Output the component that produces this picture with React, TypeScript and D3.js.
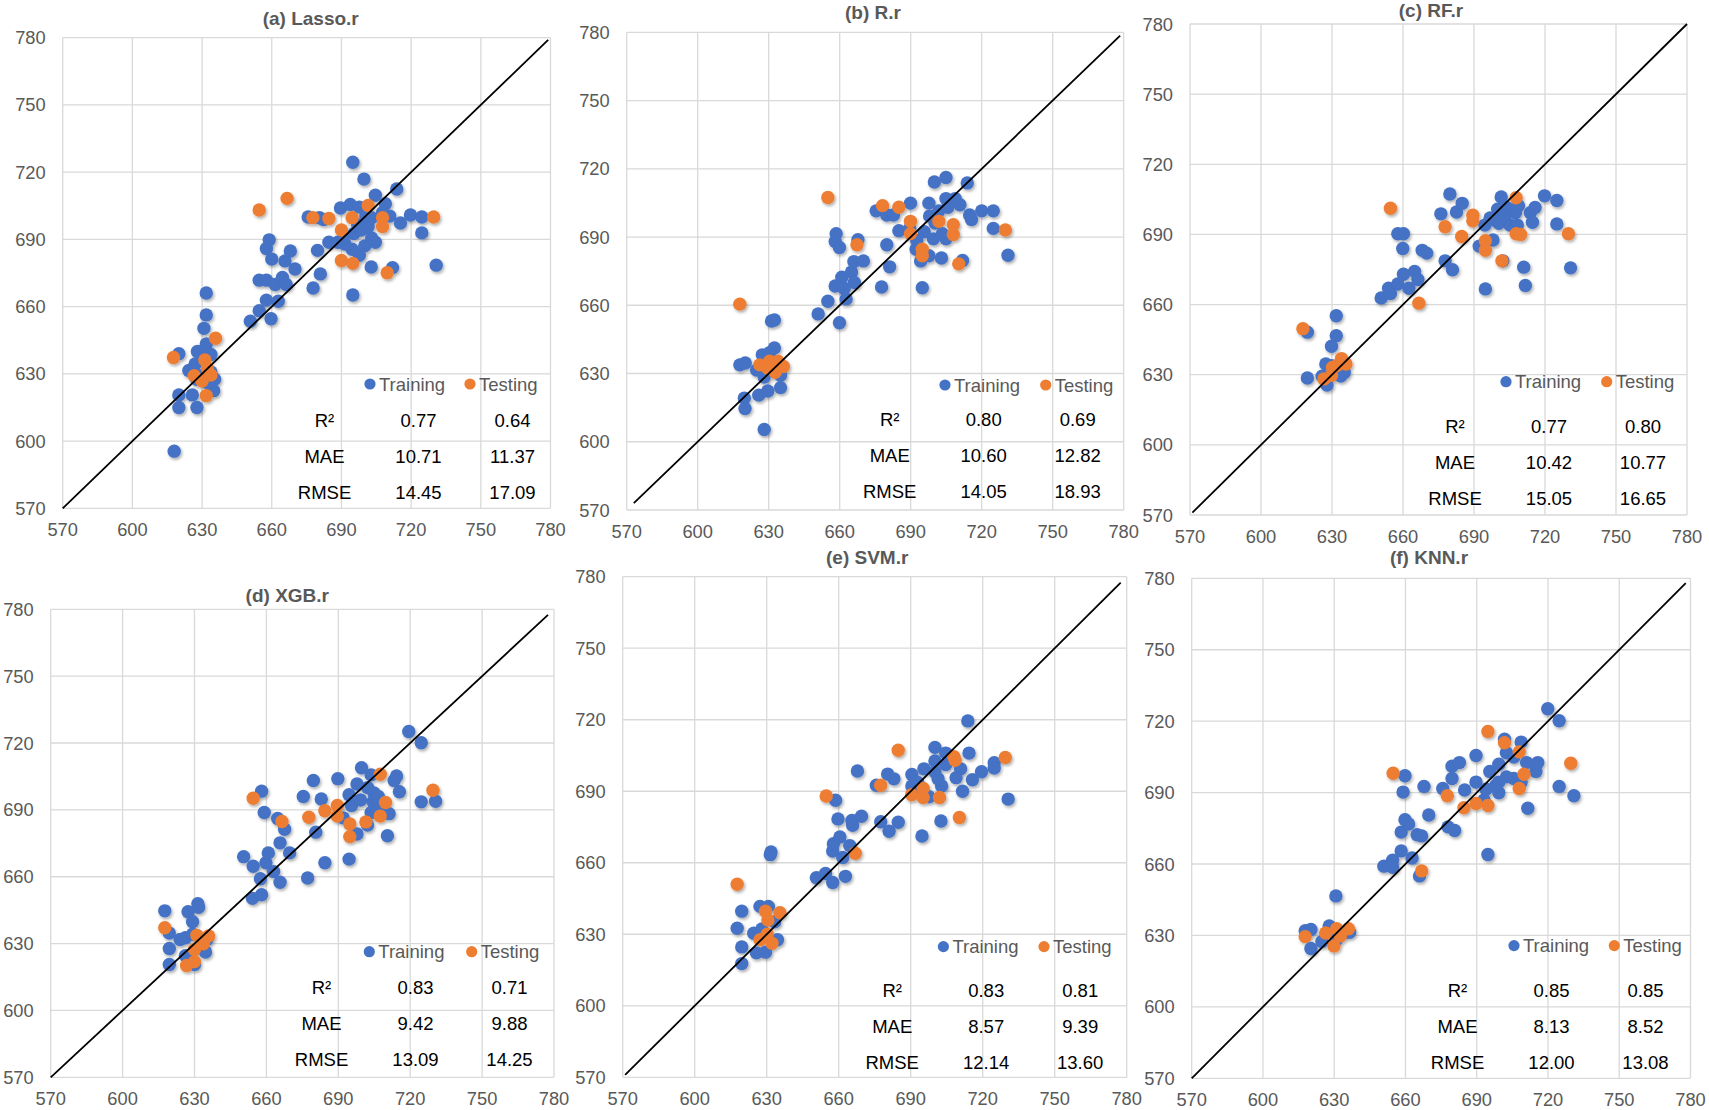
import React from 'react';
import * as d3 from 'd3';

// ---------- DATA ----------
const TICKS = [570, 600, 630, 660, 690, 720, 750, 780];
const DOMAIN: [number, number] = [570, 780];
const STAT_LABELS = ['R²', 'MAE', 'RMSE'];
const SERIES_NAMES = ['Training', 'Testing'];
// 1:1 reference line extent per panel
const DIAG: [number, number][] = [[570, 779], [573, 778.5], [571, 780], [570, 777.5], [571, 777.5], [570, 778]];

const lassoTrain: [number, number][] = [
  [618, 595.5], [620, 615], [627.8, 615], [620, 620.6], [625.8, 620.6], [635, 622.5], [620, 639], [624.3, 631.5],
  [627, 634.4], [628, 640], [630.8, 640.5], [631.8, 643.3], [630.8, 650.3], [631.8, 656.3], [631.8, 666.1], [633.8, 638.6],
  [633.8, 630.8], [629.2, 629.2], [635.4, 627.6], [632.3, 626], [627.7, 627.6], [650.8, 653.5], [654.6, 658.2], [659.7, 654.6],
  [657.7, 662.9], [662.8, 662.4], [654.6, 671.8], [657.7, 671.8], [661.5, 669.9], [664.6, 673], [666.2, 669.9], [657.7, 685.9],
  [658.9, 689.8], [660, 681.2], [665.7, 680.4], [668, 684.8], [670, 676.8], [677.8, 668.3], [680.9, 674.6], [679.7, 685.1],
  [684.6, 688.7], [675.7, 700], [680.5, 699.7], [682.3, 698.9], [689.6, 704], [693.8, 705.6], [697.7, 704.4], [694.9, 724.4],
  [699.7, 716.9], [704.6, 709.7], [708.9, 705.9], [713.8, 712.5], [710.8, 700.4], [715.4, 697.3], [719.7, 700.9], [724.6, 700],
  [724.6, 692.9], [730.8, 678.5], [712, 677.4], [702.8, 677.7], [694.9, 665.2], [697.7, 682.9], [694.6, 685.6], [691.5, 687.9],
  [700, 687.1], [704.6, 688.7], [703, 690.6], [695.4, 692.6], [698.5, 694.2], [701.5, 695.7], [703, 699.7], [707.7, 702],
  [688.5, 688.7], [690.8, 690.3], [697, 696.5], [700.5, 700.4],
];
const lassoTest: [number, number][] = [
  [617.7, 637.3], [635.8, 645.9], [631.2, 636.2], [626.6, 629.2], [633.8, 629.5], [630, 626.8], [631.8, 620.3], [632.3, 632.3],
  [654.6, 703.1], [666.6, 708.3], [677.7, 699.7], [684.6, 699.3], [690, 694.2], [694.6, 699.7], [701.5, 705.1], [707.7, 699.7],
  [707.7, 695.7], [729.7, 700], [690, 680.6], [694.9, 679.3], [709.7, 675.1],
];

const ridgeTrain: [number, number][] = [
  [617.8, 633.8], [620.1, 634.6], [619.7, 619.2], [620, 614.6], [625.8, 620.5], [628.1, 605.4], [624.9, 631.5], [627.3, 638.2],
  [630.4, 639.2], [632.4, 641.2], [631.2, 653.1], [632.4, 653.5], [635, 623.8], [629.6, 622.3], [635, 629.2], [633.5, 633.1],
  [628.1, 628.5], [650.9, 656.2], [655, 661.8], [659.9, 652.3], [662.7, 662.8], [658.1, 668.5], [661.9, 667.4], [660.9, 672.3],
  [665, 674.6], [666.2, 670], [658.5, 691.5], [658.1, 688], [659.9, 685.4], [666, 679.2], [670, 679.5], [667.7, 688.8],
  [677.7, 668], [681.1, 676.9], [679.9, 686.6], [675.4, 701.5], [679.9, 699.7], [682.7, 699.7], [685, 692.8], [689.9, 704.9],
  [697.7, 704.9], [700, 714.2], [704.9, 716.2], [713.9, 713.8], [704.9, 706.9], [708.8, 706.9], [710.8, 704.2], [705.7, 703.1],
  [714.9, 699.7], [715.7, 697.7], [720, 701.5], [724.9, 701.5], [724.9, 693.8], [731.1, 682], [711.9, 679.7], [703, 680.8],
  [697.7, 681.8], [694.2, 679.5], [694.9, 667.7], [692.3, 684.6], [692.6, 688.5], [695.7, 692.3], [699.6, 689.2], [703.4, 691.5],
  [704.9, 689.2], [700.3, 696.2], [698, 699.2], [701.9, 701.5], [689.6, 693.8],
];
const ridgeTest: [number, number][] = [
  [617.8, 660.5], [626.2, 633.8], [630.4, 635.4], [632.7, 630.5], [636.2, 633.1], [629.6, 632.3], [633.9, 635.4], [655, 707.4],
  [667.3, 686.6], [678.1, 703.8], [685, 703.1], [689.9, 696.9], [689.9, 691.5], [694.9, 684.6], [694.9, 681.8], [701.9, 696.9],
  [708, 695.4], [708, 691.1], [710.3, 678.2], [730, 693.1],
];

const rfTrain: [number, number][] = [
  [619.6, 648.2], [619.6, 628.6], [631.8, 655.2], [631.8, 646.7], [629.8, 642.2], [627.4, 634.6], [627.9, 625.6], [625.8, 629.4],
  [633.7, 629.4], [635.2, 630.9], [631.3, 630.9], [629.8, 633.9], [650.8, 662.8], [654.7, 664.7], [653.9, 667], [657.8, 668.8],
  [660.2, 673], [664.9, 674.2], [666.3, 670.7], [662.5, 667], [657.8, 690.3], [660.2, 690.3], [659.9, 684], [668.1, 683.2],
  [670, 682], [677.8, 678.7], [680.9, 674.9], [676, 698.8], [679.8, 707.3], [682.6, 699.6], [685, 703.3], [694.8, 666.7],
  [692.2, 685], [698, 687.6], [694.6, 694], [696.8, 697], [700, 700.8], [701.5, 706], [703.8, 701.5], [700.5, 694.8],
  [705.2, 694], [708.3, 694], [707.5, 699.3], [708.8, 702.3], [713.8, 699.3], [714.7, 695.2], [715.8, 701.5], [719.8, 706.5],
  [725, 704.5], [725, 694.5], [730.8, 675.7], [711, 676], [711.7, 668.2], [702.2, 678.7], [698.4, 696.2], [703.1, 697.8],
];
const rfTest: [number, number][] = [
  [617.7, 649.7], [626.6, 628.2], [630.2, 633.1], [634, 636.9], [632.1, 633.9], [635.9, 634.6], [629.8, 629.7], [654.7, 701.2],
  [666.7, 660.6], [677.8, 693.3], [684.8, 689.1], [689.5, 698.2], [689.5, 695.8], [694.8, 687.3], [694.8, 683.2], [701.8, 678.7],
  [707.8, 690.3], [709.7, 690], [707.8, 705.7], [729.9, 690.3],
];

const xgbTrain: [number, number][] = [
  [617.6, 644.7], [619.5, 634.7], [619.5, 627.8], [619.5, 620.6], [627.3, 644.3], [631.4, 647.9], [631.7, 646.3], [629.2, 639.8],
  [624, 631.8], [626.2, 632.6], [629.2, 634.2], [634.6, 626.2], [630, 620.6], [626.2, 624.6], [635.2, 631.8], [650.5, 669],
  [654.5, 664.7], [654.2, 650.3], [658, 651.9], [657.5, 659.1], [659.8, 666.3], [660.8, 670.7], [663, 662.3], [665.7, 657.5],
  [665.7, 675.2], [667.6, 681.3], [669.7, 670.7], [664.7, 686.1], [659.1, 688.8], [658, 698.4], [677.2, 659.4], [684.4, 666.3],
  [680.6, 680], [675.4, 696], [679.6, 703.2], [682.9, 694.9], [689.8, 704], [694.5, 667.9], [692.1, 686.4], [695.5, 692],
  [694.5, 696.8], [697.8, 701.6], [699.7, 708.9], [703.7, 705.7], [702.2, 700], [704.9, 697.6], [704.5, 693.6], [703.7, 688.8],
  [697.8, 679.2], [702.2, 683.2], [711.2, 688.3], [710.5, 678.4], [713.3, 703.2], [714.3, 705.2], [715.5, 698.1], [719.4, 725.2],
  [724.6, 720.1], [724.6, 693.6], [730.6, 693.9], [699.3, 694.4], [706.7, 696], [708.2, 691.2],
];
const xgbTest: [number, number][] = [
  [617.6, 637.1], [626.7, 620.2], [630, 621.9], [630, 627.3], [631, 633.7], [633.7, 629.9], [635.9, 633.4], [654.5, 695.2],
  [666.5, 684.8], [677.7, 686.7], [684.4, 689.6], [689.6, 692], [689.6, 687.2], [694.8, 683.7], [694.8, 678], [701.5, 684.6],
  [707.5, 706], [709.7, 693.3], [707.5, 687.2], [729.5, 698.8],
];

const svmTrain: [number, number][] = [
  [617.7, 632.5], [619.6, 639.7], [619.6, 624.7], [619.6, 617.7], [625.7, 622.2], [629.5, 622.5], [627.2, 641.7], [630.7, 641.7],
  [624.6, 630.4], [628, 632.2], [634.5, 627.7], [631.8, 664.5], [631.5, 663.4], [633.3, 635.2], [650.7, 653.7], [654.5, 655.5],
  [657.5, 651.7], [662.8, 654.3], [661.7, 662.2], [657.5, 664.9], [657.8, 668], [660.5, 670.8], [664.6, 667.2], [658.7, 686.2],
  [659.7, 678.4], [665.5, 677.7], [665.8, 675.7], [669.5, 679.5], [667.8, 698.5], [675.7, 692.5], [677.5, 677.2], [681, 673.2],
  [684.8, 677], [680.4, 697.2], [683, 695.2], [690.5, 697], [690.5, 692.2], [694.7, 671.2], [702.6, 677.5], [695.5, 699.4],
  [700.1, 708.4], [704.6, 706], [700.1, 702.7], [704.6, 701.2], [710.8, 699.4], [714.3, 706], [713.8, 719.5], [708.9, 695.7],
  [715.7, 694.8], [711.6, 690], [719.5, 698.2], [724.8, 702], [724.8, 699.7], [730.6, 686.7], [697.6, 687.7], [702.9, 692.2],
  [701.4, 695.2], [694.3, 689.2], [692.9, 693.7], [700.1, 698.2],
];
const svmTest: [number, number][] = [
  [617.7, 651], [629.5, 639.7], [635.5, 639], [630.5, 636], [627.2, 627.7], [630.2, 630], [632.2, 626.2], [654.8, 688],
  [666.9, 664], [677.5, 692.5], [684.8, 707.2], [690.4, 688.5], [695.2, 691.2], [695.2, 687.4], [702, 687.4], [708, 704.5],
  [708.5, 703], [710.3, 679], [729.4, 704.2],
];

const knnTrain: [number, number][] = [
  [617.8, 632], [620.2, 632.5], [620.2, 624.5], [624.8, 627.5], [627.9, 634], [630.7, 646.6], [634.1, 631], [631, 628.3],
  [636.5, 631.3], [650.9, 659.1], [654.6, 661.6], [654.6, 658.6], [658.2, 665.5], [662.8, 662.5], [665.9, 655], [658.2, 673.4],
  [659.8, 678.6], [661.3, 676.8], [664.9, 672.3], [666.8, 671.8], [669.8, 680.6], [659, 690.2], [659.8, 697.1], [667.8, 692.6],
  [675.7, 691.7], [677.9, 675.6], [680.7, 674.1], [679.6, 701.1], [682.7, 702.6], [679.6, 695.9], [684.9, 691.1], [689.7, 705.6],
  [689.7, 694.4], [693.9, 691.4], [694.7, 664], [695.5, 698.9], [699.3, 701.9], [701.7, 712.4], [702.5, 706.7], [705.6, 704.9],
  [708.7, 711.2], [711, 702.6], [714.9, 698.9], [715.7, 702.6], [711.5, 683.4], [719.9, 725.2], [724.7, 720.2], [724.7, 692.6],
  [730.9, 688.7], [699.3, 689.9], [705.6, 695.9], [702.5, 696.6], [697.9, 692.9], [693.1, 686.9], [699.3, 694.4], [708.7, 694.4],
];
const knnTest: [number, number][] = [
  [617.8, 629.5], [626.4, 631], [629.9, 625.6], [632.6, 629.8], [631, 632.8], [636, 632.8], [654.8, 698.1], [666.8, 657.1],
  [677.6, 688.7], [684.6, 683.6], [689.7, 685.4], [694.7, 684.6], [694.7, 715.7], [701.7, 710.9], [707.9, 707.1], [707.9, 691.7],
  [709.9, 697.7], [729.6, 702.3],
];

const TITLES = ['(a) Lasso.r', '(b) R.r', '(c) RF.r', '(d) XGB.r', '(e) SVM.r', '(f) KNN.r'];
const TRAIN_DATA = [lassoTrain, ridgeTrain, rfTrain, xgbTrain, svmTrain, knnTrain];
const TEST_DATA = [lassoTest, ridgeTest, rfTest, xgbTest, svmTest, knnTest];
const TRAIN_STATS = [
  ['0.77', '10.71', '14.45'],
  ['0.80', '10.60', '14.05'],
  ['0.77', '10.42', '15.05'],
  ['0.83', '9.42', '13.09'],
  ['0.83', '8.57', '12.14'],
  ['0.85', '8.13', '12.00'],
];
const TEST_STATS = [
  ['0.64', '11.37', '17.09'],
  ['0.69', '12.82', '18.93'],
  ['0.80', '10.77', '16.65'],
  ['0.71', '9.88', '14.25'],
  ['0.81', '9.39', '13.60'],
  ['0.85', '8.52', '13.08'],
];

// ---------- LAYOUT (pixel positions) ----------
const BOXES = [
  { left: 62.7, right: 550.5, top: 37.7, bottom: 508.3, tx: 310.7, ty: 18.3, ly: -124.3, lx: [-180.5, -80.5], tc: -38, tr: -15.6 },
  { left: 626.7, right: 1123.7, top: 32.3, bottom: 510, tx: 873, ty: 12, ly: -125, lx: [-178.7, -78], tc: -46, tr: -18.3 },
  { left: 1190, right: 1687, top: 24, bottom: 515, tx: 1431, ty: 10.8, ly: -133.3, lx: [-181, -80.3], tc: -44, tr: -16.7 },
  { left: 50.7, right: 554, top: 609.3, bottom: 1077.3, tx: 287.3, ty: 595, ly: -125.6, lx: [-184.7, -82.3], tc: -44.5, tr: -18.3 },
  { left: 622.7, right: 1126.7, top: 576.7, bottom: 1077.3, tx: 867.2, ty: 557.9, ly: -130.7, lx: [-183.3, -82.7], tc: -46.5, tr: -15 },
  { left: 1191.7, right: 1690.5, top: 578.3, bottom: 1078.3, tx: 1429, ty: 557.9, ly: -132.7, lx: [-176.5, -76.2], tc: -45, tr: -16 },
];

const BLUE = '#4472C4';
const ORANGE = '#ED7D31';
const GRID = '#d9d9d9';
const GRAY_TEXT = '#595959';
const FONT = 'Arial, "Liberation Sans", Helvetica, sans-serif';

function Panel({ i }: { i: number }) {
  const b = BOXES[i];
  const x = d3.scaleLinear().domain(DOMAIN).range([b.left, b.right]);
  const y = d3.scaleLinear().domain(DOMAIN).range([b.bottom, b.top]);
  const colX = [b.right + b.tc - 188, b.right + b.tc - 94, b.right + b.tc];
  const rowY = [b.bottom + b.tr - 71.8, b.bottom + b.tr - 35.9, b.bottom + b.tr];
  const legY = b.bottom + b.ly;
  const legX = [b.right + b.lx[0], b.right + b.lx[1]];
  const r = 6.7;
  const diag = DIAG[i];
  return (
    <g>
      {TICKS.map((t) => (
        <line key={'gx' + t} x1={x(t)} x2={x(t)} y1={b.top} y2={b.bottom} stroke={GRID} strokeWidth={1.3} />
      ))}
      {TICKS.map((t) => (
        <line key={'gy' + t} x1={b.left} x2={b.right} y1={y(t)} y2={y(t)} stroke={GRID} strokeWidth={1.3} />
      ))}
      {TICKS.map((t) => (
        <text key={'tx' + t} x={x(t)} y={b.bottom + 21} textAnchor="middle" dominantBaseline="central"
          fontSize={18.3} fill={GRAY_TEXT} fontFamily={FONT}>{t}</text>
      ))}
      {TICKS.map((t) => (
        <text key={'ty' + t} x={b.left - 17} y={y(t)} textAnchor="end" dominantBaseline="central"
          fontSize={18.3} fill={GRAY_TEXT} fontFamily={FONT}>{t}</text>
      ))}
      <text x={b.tx} y={b.ty} textAnchor="middle" dominantBaseline="central" fontSize={19} fontWeight="bold"
        fill={GRAY_TEXT} fontFamily={FONT}>{TITLES[i]}</text>
      <g filter="url(#shadow)">
        {TRAIN_DATA[i].map((d, k) => (
          <circle key={'tr' + k} cx={x(d[0])} cy={y(d[1])} r={r} fill={BLUE} />
        ))}
        {TEST_DATA[i].map((d, k) => (
          <circle key={'te' + k} cx={x(d[0])} cy={y(d[1])} r={r} fill={ORANGE} />
        ))}
      </g>
      <line x1={x(diag[0])} y1={y(diag[0])} x2={x(diag[1])} y2={y(diag[1])} stroke="#000" strokeWidth={1.8} />
      {SERIES_NAMES.map((n, k) => (
        <g key={n}>
          <circle cx={legX[k]} cy={legY} r={5.6} fill={k === 0 ? BLUE : ORANGE} />
          <text x={legX[k] + 9} y={legY} dominantBaseline="central" fontSize={18.5} fill={GRAY_TEXT} fontFamily={FONT}>{n}</text>
        </g>
      ))}
      {STAT_LABELS.map((l, k) => (
        <g key={l}>
          <text x={colX[0]} y={rowY[k]} textAnchor="middle" dominantBaseline="central" fontSize={18.5} fill="#000" fontFamily={FONT}>{l}</text>
          <text x={colX[1]} y={rowY[k]} textAnchor="middle" dominantBaseline="central" fontSize={18.5} fill="#000" fontFamily={FONT}>{TRAIN_STATS[i][k]}</text>
          <text x={colX[2]} y={rowY[k]} textAnchor="middle" dominantBaseline="central" fontSize={18.5} fill="#000" fontFamily={FONT}>{TEST_STATS[i][k]}</text>
        </g>
      ))}
    </g>
  );
}

export default function App() {
  return (
    <svg width={1709} height={1110} style={{ position: 'absolute', left: 0, top: 0, display: 'block', background: '#fff' }}>
      <defs>
        <filter id="shadow" x="-10%" y="-10%" width="120%" height="120%">
          <feDropShadow dx={1.3} dy={2} stdDeviation={1.4} floodColor="#000" floodOpacity={0.32} />
        </filter>
      </defs>
      <rect x={0} y={0} width={1709} height={1110} fill="#fff" />
      {TITLES.map((_, i) => <Panel key={i} i={i} />)}
    </svg>
  );
}
